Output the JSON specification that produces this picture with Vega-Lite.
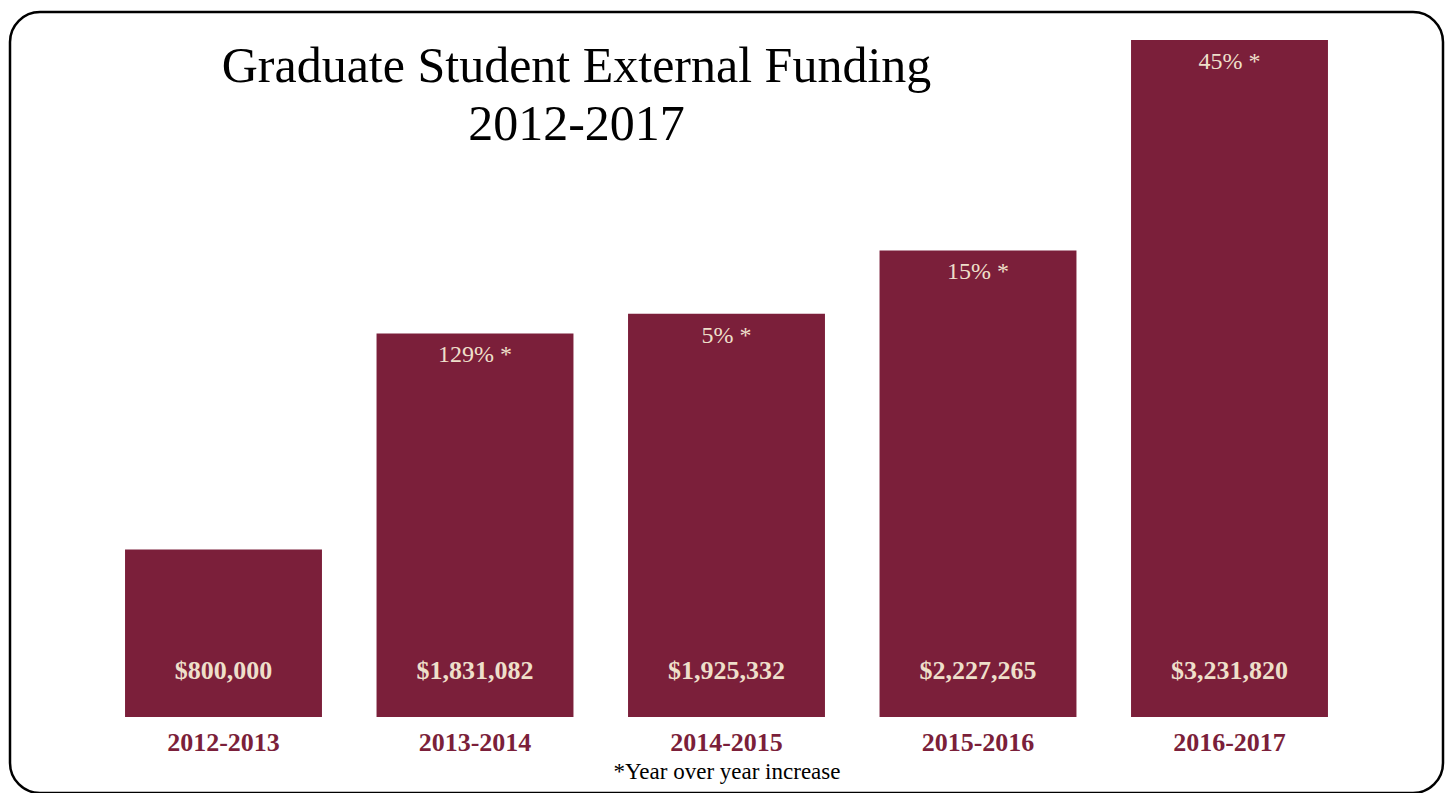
{
  "$schema": "https://vega.github.io/schema/vega-lite/v6.json",
  "autosize": "none",
  "width": 1433,
  "height": 781,
  "padding": {"left": 10, "top": 12, "right": 9, "bottom": 0},
  "background": "white",
  "title": {
    "text": ["Graduate Student External Funding", "2012-2017"],
    "font": "Liberation Serif",
    "fontSize": 50,
    "fontWeight": "normal",
    "color": "black",
    "anchor": "middle",
    "frame": "group",
    "lineHeight": 58,
    "offset": -138,
    "dx": -150
  },
  "data": {
    "values": [
      {"year": "2012-2013", "funding": 800000, "pct": null},
      {"year": "2013-2014", "funding": 1831082, "pct": "129% *"},
      {"year": "2014-2015", "funding": 1925332, "pct": "5% *"},
      {"year": "2015-2016", "funding": 2227265, "pct": "15% *"},
      {"year": "2016-2017", "funding": 3231820, "pct": "45% *"}
    ]
  },
  "encoding": {
    "x": {
      "field": "year",
      "type": "nominal",
      "sort": null,
      "scale": {"paddingInner": 0.217, "paddingOuter": 0.4574},
      "axis": {
        "orient": "bottom",
        "offset": -76,
        "domain": false,
        "ticks": false,
        "tickSize": 0,
        "grid": false,
        "labelAngle": 0,
        "labelPadding": 33,
        "labelBaseline": "alphabetic",
        "labelFont": "Liberation Serif",
        "labelFontSize": 26,
        "labelFontWeight": "bold",
        "labelColor": "#7B1F3A",
        "title": "*Year over year increase",
        "titleFont": "Liberation Serif",
        "titleFontSize": 23,
        "titleFontWeight": "normal",
        "titleColor": "black",
        "titleBaseline": "alphabetic",
        "titleY": 61
      }
    }
  },
  "layer": [
    {
      "mark": {"type": "bar", "color": "#7B1F3A"},
      "encoding": {
        "y": {
          "field": "funding",
          "type": "quantitative",
          "scale": {"domain": [-362800, 3365460], "nice": false, "zero": false},
          "axis": null
        }
      }
    },
    {
      "transform": [{"filter": "datum.pct != null"}],
      "mark": {
        "type": "text",
        "font": "Liberation Serif",
        "fontSize": 24,
        "color": "#EEDFCA",
        "baseline": "alphabetic",
        "dy": 29
      },
      "encoding": {
        "y": {"field": "funding", "type": "quantitative"},
        "text": {"field": "pct"}
      }
    },
    {
      "mark": {
        "type": "text",
        "font": "Liberation Serif",
        "fontSize": 26,
        "fontWeight": "bold",
        "color": "#EEDFCA",
        "baseline": "alphabetic",
        "dy": -38
      },
      "encoding": {
        "y": {"datum": 0, "type": "quantitative"},
        "text": {"field": "funding", "type": "quantitative", "format": "$,d"}
      }
    }
  ],
  "config": {
    "view": {"stroke": "black", "strokeWidth": 2.5, "cornerRadius": 30}
  }
}
